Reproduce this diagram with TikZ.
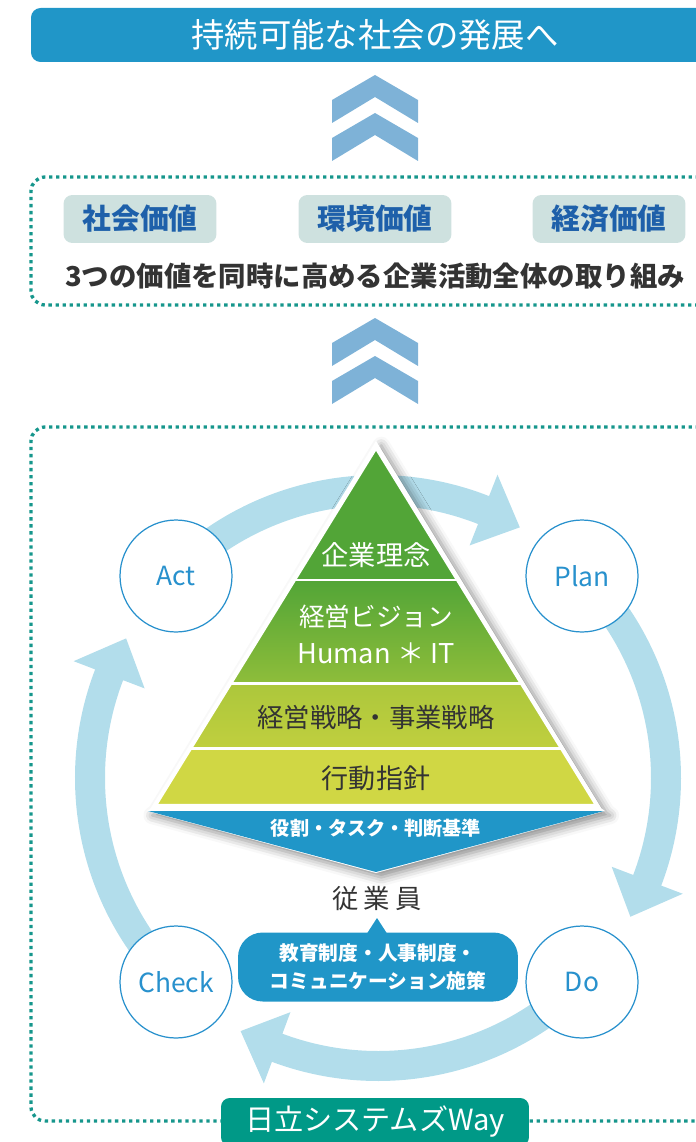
\documentclass[tikz,border=0pt]{standalone}
\usepackage{fontspec}
\setmainfont{Noto Sans CJK JP}
\usepackage{tikz}
\usetikzlibrary{shadows.blur}
\definecolor{skyband}{RGB}{178,221,235}
\definecolor{deepblue}{RGB}{32,150,200}
\definecolor{chevblue}{RGB}{126,178,215}
\definecolor{dotteal}{RGB}{22,150,140}
\definecolor{valfill}{RGB}{206,225,223}
\definecolor{valtext}{RGB}{30,96,170}
\definecolor{inkgrey}{RGB}{51,51,51}
\definecolor{ringline}{RGB}{40,145,205}
\definecolor{waygreen}{RGB}{0,153,135}
\definecolor{grA}{RGB}{82,165,55}
\definecolor{grB}{RGB}{142,189,58}
\definecolor{grC}{RGB}{172,199,60}
\definecolor{grD}{RGB}{192,207,62}
\definecolor{grE}{RGB}{208,215,68}

% one PDCA arrow: start angle, tip angle
\newcommand{\pdcaarrow}[2]{%
  \fill[skyband] (#1:303) arc[start angle=#1, end angle=#2+8, radius=303]
    -- (#2+8:326) -- (#2:288) -- (#2+8:250) -- (#2+8:273)
    arc[start angle=#2+8, end angle=#1, radius=273] -- cycle;}

\begin{document}
\begin{tikzpicture}[x=0.02cm, y=-0.02cm,
    dotline/.style={dotteal, line width=1.9pt, dash pattern=on 1.9pt off 2.1pt, rounded corners=8pt},
    goaltext/.style={text=white, font=\fontsize{19pt}{22pt}\selectfont},
    valbox/.style={fill=valfill, rounded corners=5pt, minimum width=3.06cm, minimum height=0.96cm,
      text=valtext, font=\bfseries\fontsize{16.4pt}{19pt}\selectfont},
    rowtext/.style={text=inkgrey, font=\bfseries\fontsize{15.6pt}{19pt}\selectfont},
    tier/.style={text=white, font=\fontsize{15.5pt}{19pt}\selectfont},
    tierdark/.style={text=inkgrey, font=\fontsize{15pt}{19pt}\selectfont},
    bandtext/.style={text=white, font=\bfseries\fontsize{10.9pt}{13pt}\selectfont},
    pdca/.style={circle, draw=ringline, line width=0.7pt, fill=white, minimum size=2.24cm,
      text=ringline, font=\fontsize{15pt}{18pt}\selectfont},
    staff/.style={text=inkgrey, font=\fontsize{15pt}{18pt}\selectfont},
    bubble/.style={fill=deepblue, rounded corners=14pt, minimum width=5.6cm, minimum height=1.38cm,
      align=center, text=white, font=\bfseries\fontsize{11.2pt}{15.9pt}\selectfont},
    waybox/.style={fill=waygreen, rounded corners=5pt, minimum width=6.16cm, minimum height=0.96cm,
      text=white, font=\fontsize{16.6pt}{19pt}\selectfont}]

\useasboundingbox (0,0) rectangle (696,1142);

% Goal bar
\fill[deepblue, rounded corners=5.5pt] (31,8) rectangle (720,62);
\node[goaltext] (goal) at (375,35) {持続可能な社会の発展へ};

% Chevrons
\foreach \y in {75,113,318,356}
  \fill[chevblue] (375,\y) -- (418,\y+25) -- (418,\y+48) -- (375,\y+22)
    -- (332,\y+48) -- (332,\y+25) -- cycle;

% Three values
\draw[dotline] (720,177) -- (31,177) -- (31,305) -- (720,305);
\node[valbox] (social) at (140,219) {社会価値};
\node[valbox] (envir) at (375,219) {環境価値};
\node[valbox] (econ) at (609,219) {経済価値};
\node[rowtext] (whole) at (375,276) {3つの価値を同時に高める企業活動全体の取り組み};

% Way frame
\draw[dotline] (720,427) -- (31,427) -- (31,1121) -- (720,1121);

% PDCA ring
\begin{scope}[shift={(378,778)}, yscale=-1]
  \pdcaarrow{135}{60.5}
  \pdcaarrow{45}{-28.8}
  \pdcaarrow{-45}{-118.5}
  \pdcaarrow{225}{151}
\end{scope}

% Pyramid
\fill[white, blur shadow={shadow xshift=3pt, shadow yshift=-2.5pt, shadow blur radius=5pt, shadow opacity=45}]
  (376,441) -- (601,808) -- (605,811) -- (376,873) -- (147,811) -- (151,808) -- cycle;
\fill[grA] (376,447) -- (458,580) -- (294,580) -- cycle;
\shade[top color=grA, bottom color=grB] (294,580) -- (458,580) -- (522,683) -- (230,683) -- cycle;
\shade[top color=grC, bottom color=grD] (230,683) -- (522,683) -- (562,748) -- (190,748) -- cycle;
\fill[grE] (190,748) -- (562,748) -- (597.5,806) -- (154.5,806) -- cycle;
\foreach \y/\l/\r in {580/294/458, 683/230/522, 748/190/562, 807/152/600}
  \draw[white, line width=1.7pt] (\l,\y) -- (\r,\y);
\fill[deepblue] (148,811) -- (604,811) -- (376,872) -- cycle;
\draw[white, line width=2.3pt, line join=miter] (376,447) -- (597.5,806) -- (154.5,806) -- cycle;

\node[tier] (idea) at (376,555) {企業理念};
\node[tier, font=\fontsize{14.6pt}{19pt}\selectfont] (vision) at (376,617) {経営ビジョン};
\node[tier] (human) at (376,653) {Human ＊ IT};
\node[tierdark] (strategy) at (376,717) {経営戦略・事業戦略};
\node[tierdark, font=\fontsize{15.4pt}{19pt}\selectfont] (conduct) at (376,778) {行動指針};
\node[bandtext] (roles) at (376,828) {役割・タスク・判断基準};

% PDCA circles
\node[pdca] (act) at (176,576) {Act};
\node[pdca] (plan) at (582,576) {Plan};
\node[pdca] (check) at (176,982) {Check};
\node[pdca] (do) at (582,982) {Do};

% Employees and measures
\node[staff] (staff) at (377,899) {従\hspace{3pt}業\hspace{3pt}員};
\fill[deepblue] (366,935) -- (377,918) -- (388,935) -- cycle;
\node[bubble] (measures) at (378,967) {教育制度・人事制度・\\コミュニケーション施策};

% Way label
\node[waybox] (way) at (375,1122) {日立システムズWay};
\end{tikzpicture}
\end{document}
